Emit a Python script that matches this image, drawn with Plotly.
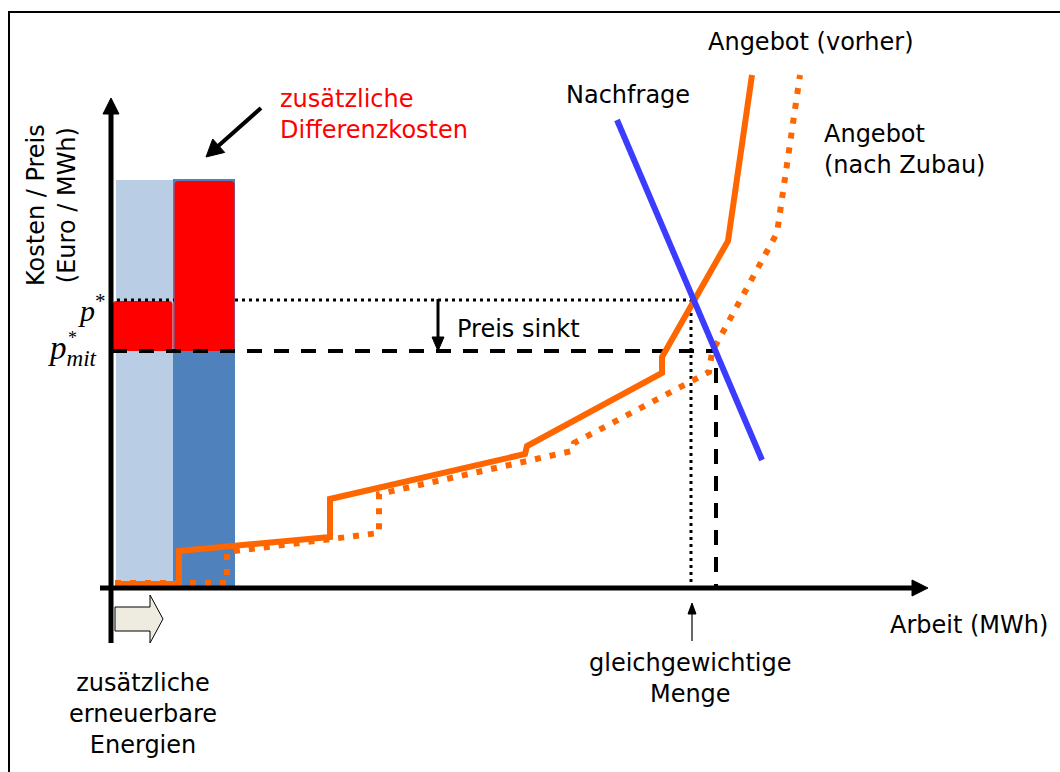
import math
import plotly.graph_objects as go

# ---------------- data (arbitrary units: quantity in MWh, price in Euro/MWh) -------------
supply_before_q = [4, 68, 68, 219, 219, 414, 416, 551, 551, 617, 641]
supply_before_p = [4, 4, 37, 51, 89, 134, 142, 215, 231, 347, 513]
supply_after_q = [4, 116, 116, 268, 268, 461, 463, 598, 601, 666, 689]
supply_after_p = [5, 5, 36, 55, 94, 137, 145, 216, 236, 355, 513]
demand_q = [506, 651]
demand_p = [468, 128]

p_star = 287      # price before
p_mit = 237       # price after additional renewables
q_star = 580
q_mit = 605

# renewable energy cost bars (existing / additional)
re_left = [5, 62]
re_right = [62, 124]
re_cost = [408, 409]
re_colors = ["#B9CDE5", "#4F81BD"]

# additional difference costs (red)
diff_left = [1, 63]
diff_right = [62, 124]
diff_top = [p_star, 407]

# axis extents
x_axis_start, x_axis_tip = -11, 817
y_axis_start, y_axis_tip = -55, 490

FONT = "DejaVu Sans"
FS = 24

fig = go.Figure()

# blue bars
fig.add_trace(go.Bar(
    x=[(l + r) / 2 for l, r in zip(re_left, re_right)],
    y=re_cost,
    width=[r - l for l, r in zip(re_left, re_right)],
    base=0,
    marker=dict(color=re_colors, line=dict(width=0)),
    hoverinfo="skip",
))
# red difference-cost bars
fig.add_trace(go.Bar(
    x=[(l + r) / 2 for l, r in zip(diff_left, diff_right)],
    y=[t - p_mit for t in diff_top],
    width=[r - l - 1 for l, r in zip(diff_left, diff_right)],
    base=p_mit,
    marker=dict(color="#FF0000", line=dict(width=0), cornerradius=4),
    hoverinfo="skip",
))

# equilibrium reference lines
fig.add_trace(go.Scatter(
    x=[6, diff_left[1], None, diff_right[1], q_star, q_star, q_star],
    y=[p_star + 1, p_star + 1, None, p_star + 1, p_star + 1, p_star, 0],
    mode="lines", line=dict(color="black", width=3, dash="3px,4px"),
    hoverinfo="skip",
))
fig.add_trace(go.Scatter(
    x=[1, q_mit, q_mit],
    y=[p_mit, p_mit, 0],
    mode="lines", line=dict(color="black", width=4, dash="15px,12px"),
    hoverinfo="skip",
))

# supply after (dotted), supply before (solid), demand
fig.add_trace(go.Scatter(
    x=supply_after_q, y=supply_after_p, mode="lines",
    line=dict(color="#FF6600", width=6, dash="6px,9px"), hoverinfo="skip",
))
fig.add_trace(go.Scatter(
    x=supply_before_q, y=supply_before_p, mode="lines",
    line=dict(color="#FF6600", width=6), hoverinfo="skip",
))
fig.add_trace(go.Scatter(
    x=demand_q, y=demand_p, mode="lines",
    line=dict(color="#3C3CFF", width=6), hoverinfo="skip",
))


def arrow(x0, y0, x1, y1, width, head_len, head_half):
    """Line from (x0,y0) to the tip (x1,y1) with a filled triangular head."""
    dx, dy = x1 - x0, y1 - y0
    L = math.hypot(dx, dy)
    ux, uy = dx / L, dy / L
    bx, by = x1 - ux * head_len, y1 - uy * head_len
    px, py = -uy, ux
    fig.add_trace(go.Scatter(x=[x0, bx + ux], y=[y0, by + uy], mode="lines",
                             line=dict(color="black", width=width), hoverinfo="skip"))
    fig.add_trace(go.Scatter(
        x=[bx + px * head_half, x1, bx - px * head_half, bx + px * head_half],
        y=[by + py * head_half, y1, by - py * head_half, by + py * head_half],
        mode="lines", fill="toself", fillcolor="black",
        line=dict(color="black", width=1), hoverinfo="skip"))


# axes with arrow heads
arrow(x_axis_start, 0, x_axis_tip, 0, 5, 16, 8)
arrow(0, y_axis_start, 0, y_axis_tip, 5, 16, 8)

# pointer arrows
arrow(150, 480, 95, 431, 4, 17, 9)
arrow(327, 289, 327, 237, 3, 14, 6)
arrow(q_star + 1, -53, q_star + 1, -15, 1.2, 11, 4)

# block arrow "zusätzliche erneuerbare Energien"
ba_x0, ba_xh, ba_tip, ba_y, ba_bh, ba_hh = 4, 39, 52, -31, 12, 24
fig.add_trace(go.Scatter(
    x=[ba_x0, ba_xh, ba_xh, ba_tip, ba_xh, ba_xh, ba_x0, ba_x0],
    y=[ba_y + ba_bh, ba_y + ba_bh, ba_y + ba_hh, ba_y, ba_y - ba_hh,
       ba_y - ba_bh, ba_y - ba_bh, ba_y + ba_bh],
    mode="lines", fill="toself", fillcolor="#EEECE1",
    line=dict(color="black", width=1), hoverinfo="skip",
))

ann = []


def txt(x, y, s, xanchor="center", color="black", size=FS, angle=0, family=FONT):
    ann.append(dict(x=x, y=y, xref="x", yref="y", text=s, showarrow=False,
                    xanchor=xanchor, yanchor="middle", align=xanchor if xanchor != "center" else "center",
                    textangle=angle, font=dict(family=family, size=size, color=color)))


txt(167, 474, "zusätzliche<br>Differenzkosten", xanchor="left", color="#FF0000")
txt(517, 493, "Nachfrage")
txt(700, 546, "Angebot (vorher)")
txt(711, 439, "Angebot<br>(nach Zubau)", xanchor="left")
txt(344, 259, "Preis sinkt", xanchor="left")
txt(777, -37, "Arbeit (MWh)", xanchor="left")
txt(579, -90, "gleichgewichtige<br>Menge")
txt(32, -126, "zusätzliche<br>erneuerbare<br>Energien")
txt(-60, 383, "Kosten / Preis<br>(Euro / MWh)", angle=-90)

# price labels (italic serif)
SERIF = "Liberation Serif"
txt(-19, 280, "<i>p</i><sup>*</sup>", size=30, family=SERIF)
txt(-39, 238, "<i>p</i><sub><i>mit</i></sub>", size=33, family=SERIF)
txt(-39, 250, "*", size=18, family=SERIF)

W, H = 1060, 772
shapes = [
    dict(type="line", xref="paper", yref="paper", x0=9 / W, x1=9 / W, y0=1 - 12 / H, y1=0,
         line=dict(color="black", width=2)),
    dict(type="line", xref="paper", yref="paper", x0=8 / W, x1=1, y0=1 - 12 / H, y1=1 - 12 / H,
         line=dict(color="black", width=2)),
]

fig.update_layout(
    width=W, height=H,
    margin=dict(l=0, r=0, t=0, b=0),
    paper_bgcolor="white", plot_bgcolor="white",
    showlegend=False, barmode="overlay",
    xaxis=dict(range=[-111, 949], visible=False, fixedrange=True),
    yaxis=dict(range=[-184, 588], visible=False, fixedrange=True),
    annotations=ann, shapes=shapes,
)

fig.write_html("out.html", config={"displayModeBar": False},
               post_script="document.body.style.margin='0';document.body.style.overflow='hidden';")
